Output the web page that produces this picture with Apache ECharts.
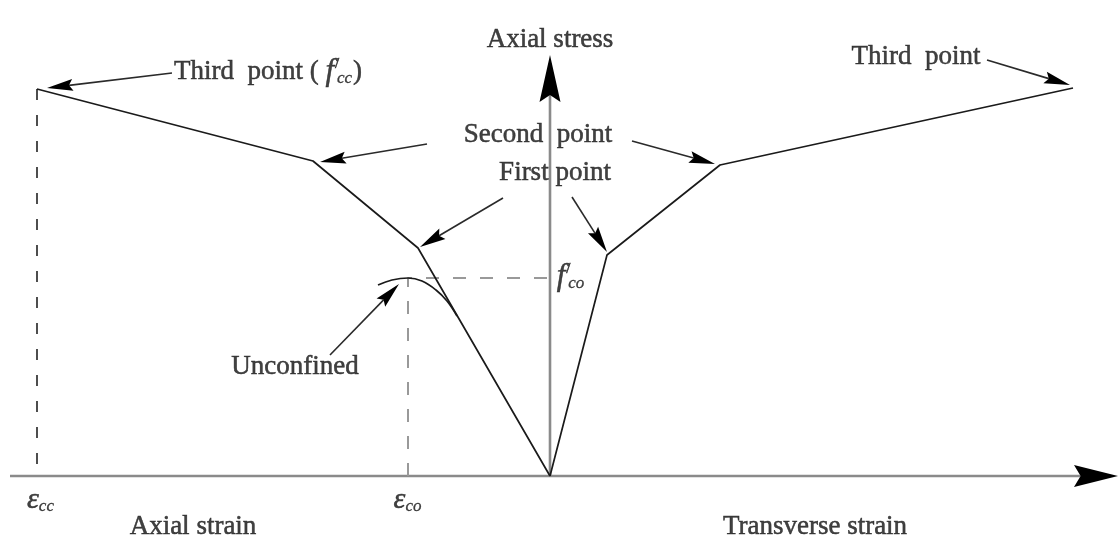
<!DOCTYPE html>
<html>
<head>
<meta charset="utf-8">
<script src="https://cdn.jsdelivr.net/npm/echarts@6/dist/echarts.min.js"></script>
<style>
  html, body { margin: 0; padding: 0; background: #fff; }
  #chart { width: 1119px; height: 538px; }
</style>
</head>
<body>
<div id="chart"></div>
<script>
var chart = echarts.init(document.getElementById('chart'));

// strain (x) / stress (y) in arbitrary units, origin at (0, 0)
var confinedAxial = [[0, 0], [-1.32, 2.28], [-2.37, 3.15], [-5.13, 3.87]];
var confinedLateral = [[0, 0], [0.57, 2.21], [1.70, 3.11], [5.23, 3.88]];
var unconfined = [[-1.72, 1.91], [-1.58, 1.96], [-1.42, 1.98], [-1.28, 1.95],
                  [-1.14, 1.86], [-1.03, 1.75], [-0.93, 1.60]];
var epsCc = -5.13, fCc = 3.87;   // third point (axial side)
var epsCo = -1.42, fCo = 1.98;   // unconfined peak

// axes drawn as arrows [x1, y1, x2, y2]
var axisArrows = [[-5.40, 0, 5.68, 0], [0, 0, 0, 4.21]];
// pointer arrows [fromX, fromY, toX, toY]
var pointers = [
    [-3.78, 4.03, -5.03, 3.88],   // Third point (f'cc)
    [-1.23, 3.32, -2.30, 3.14],   // Second point, left
    [0.82, 3.35, 1.65, 3.12],     // Second point, right
    [-0.47, 2.78, -1.30, 2.29],   // First point, left
    [0.22, 2.79, 0.57, 2.24],     // First point, right
    [4.37, 4.16, 5.20, 3.91],     // Third point, right
    [-2.20, 1.21, -1.51, 1.92]    // Unconfined
];
// text labels [x, y, text]
var labels = [
    [0.00, 4.36, 'Axial stress'],
    [-0.12, 3.41, 'Second  point'],
    [0.05, 3.03, 'First point'],
    [-2.82, 4.04, 'Third  point ( {f|f}{sup|/}{sub|cc})'],
    [3.66, 4.19, 'Third  point'],
    [-2.55, 1.09, 'Unconfined'],
    [0.21, 1.99, '{f|f}{sup|/}{sub|co}'],
    [-5.09, -0.24, '{e|ε}{sub|cc}'],
    [-1.42, -0.24, '{e|ε}{sub|co}'],
    [-3.57, -0.51, 'Axial strain'],
    [2.65, -0.51, 'Transverse strain']
];

var serif = 'Liberation Serif';
var ink = '#111';

function arrowItem(head, half, lineColor, lineWidth, headColor) {
    return function (params, api) {
        var p1 = api.coord([api.value(0), api.value(1)]);
        var p2 = api.coord([api.value(2), api.value(3)]);
        var dx = p2[0] - p1[0], dy = p2[1] - p1[1];
        var len = Math.sqrt(dx * dx + dy * dy);
        var ux = dx / len, uy = dy / len;
        var bx = p2[0] - ux * head, by = p2[1] - uy * head;
        var nx = -uy * half, ny = ux * half;
        var mx = p2[0] - ux * head * 0.85, my = p2[1] - uy * head * 0.85;
        return {
            type: 'group',
            children: [{
                type: 'line',
                shape: { x1: p1[0], y1: p1[1], x2: mx, y2: my },
                style: { stroke: lineColor, lineWidth: lineWidth }
            }, {
                type: 'polygon',
                shape: { points: [p2, [bx + nx, by + ny], [mx, my], [bx - nx, by - ny]] },
                style: { fill: headColor }
            }]
        };
    };
}

var richStyle = {
    f: { fontFamily: serif, fontStyle: 'italic', fontSize: 31, color: ink, textBorderColor: ink, textBorderWidth: 0.5 },
    e: { fontFamily: serif, fontStyle: 'italic', fontSize: 30, color: ink, textBorderColor: ink, textBorderWidth: 0.5 },
    sup: { fontFamily: serif, fontSize: 15, color: ink, verticalAlign: 'top', width: 0, padding: [0, 0, 0, 3] },
    sub: { fontFamily: serif, fontStyle: 'italic', fontSize: 17, color: ink, verticalAlign: 'bottom', padding: [0, 1, 0, 0],
           textBorderColor: ink, textBorderWidth: 0.3 }
};

var option = {
    animation: false,
    backgroundColor: '#fff',
    grid: { left: 0, right: 0, top: 0, bottom: 0 },
    xAxis: { type: 'value', min: -5.50, max: 5.69, show: false },
    yAxis: { type: 'value', min: -0.62, max: 4.76, show: false },
    series: [{
        type: 'custom',
        silent: true,
        z: 1,
        renderItem: arrowItem(44, 11, '#8a8a8a', 2.6, '#000'),
        data: axisArrows.slice(0, 1)
    }, {
        type: 'custom',
        silent: true,
        z: 1,
        renderItem: arrowItem(47, 10.5, '#8a8a8a', 2.6, '#000'),
        data: axisArrows.slice(1)
    }, {
        type: 'line',
        silent: true,
        symbol: 'none',
        z: 2,
        lineStyle: { color: '#222', width: 1.6, type: [11, 15] },
        data: [[epsCc, fCc], [epsCc, 0]]
    }, {
        type: 'line',
        silent: true,
        symbol: 'none',
        z: 2,
        lineStyle: { color: '#999', width: 2, type: [13, 14] },
        data: [[epsCo, 0], [epsCo, fCo], [0, fCo]]
    }, {
        type: 'line',
        silent: true,
        symbol: 'none',
        z: 3,
        lineStyle: { color: '#1a1a1a', width: 1.7 },
        data: confinedAxial
    }, {
        type: 'line',
        silent: true,
        symbol: 'none',
        z: 3,
        lineStyle: { color: '#1a1a1a', width: 1.7 },
        data: confinedLateral
    }, {
        type: 'line',
        silent: true,
        symbol: 'none',
        smooth: 0.4,
        z: 3,
        lineStyle: { color: '#1a1a1a', width: 1.7 },
        data: unconfined
    }, {
        type: 'custom',
        silent: true,
        z: 4,
        renderItem: arrowItem(26, 6, '#2a2a2a', 1.6, '#000'),
        data: pointers
    }, {
        type: 'scatter',
        silent: true,
        z: 5,
        symbolSize: 1,
        itemStyle: { color: 'rgba(0,0,0,0)' },
        label: {
            show: true,
            position: 'inside',
            align: 'center',
            verticalAlign: 'middle',
            fontFamily: serif,
            fontSize: 27,
            color: ink,
            textBorderColor: ink,
            textBorderWidth: 0.5,
            rich: richStyle
        },
        data: labels.map(function (l) {
            return { value: [l[0], l[1]], label: { formatter: l[2] } };
        })
    }]
};

chart.setOption(option);
</script>
</body>
</html>
